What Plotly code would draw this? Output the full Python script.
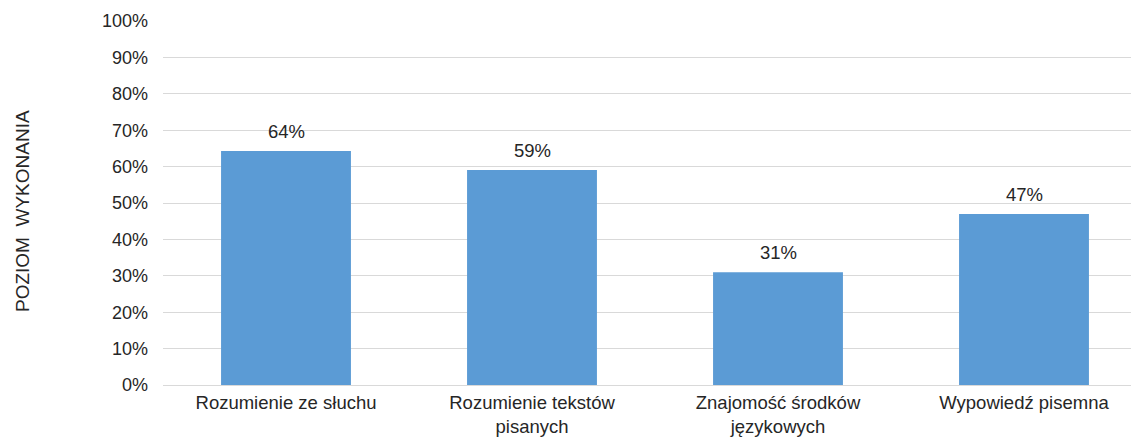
import plotly.graph_objects as go

categories = ["Rozumienie ze słuchu", "Rozumienie tekstów<br>pisanych",
              "Znajomość środków<br>językowych", "Wypowiedź pisemna"]
values = [0.643, 0.591, 0.310, 0.470]
labels = ["64%", "59%", "31%", "47%"]
y_title = "POZIOM  WYKONANIA"

FONT = "Liberation Sans, Arial, sans-serif"
TXT = "#262626"

xs = list(range(len(categories)))
fig = go.Figure(go.Bar(
    x=xs, y=values,
    marker=dict(color="#5b9bd5", line=dict(width=0)),
    width=0.528, hoverinfo="skip",
))

for x, v, t in zip(xs, values, labels):
    fig.add_annotation(x=x, y=v, text=t, showarrow=False, yanchor="bottom",
                       yshift=7, font=dict(family=FONT, size=18.5, color=TXT))

fig.add_annotation(text=y_title, textangle=-90, showarrow=False,
                   xref="paper", yref="paper", x=-0.1433, y=0.478,
                   xanchor="center", yanchor="middle",
                   font=dict(family=FONT, size=19, color=TXT))

fig.update_layout(
    width=1139, height=439,
    margin=dict(l=155, r=0, t=13, b=62),
    plot_bgcolor="white", paper_bgcolor="white",
    showlegend=False,
    font=dict(family=FONT, size=18, color=TXT),
)
fig.update_xaxes(
    tickmode="array", tickvals=xs, ticktext=categories,
    range=[-0.5, 3.5], showgrid=False, zeroline=False,
    showline=False, ticks="", ticklabelstandoff=4,
    tickfont=dict(size=18.5, color=TXT),
)
fig.update_yaxes(
    range=[0, 1], dtick=0.1, tickformat=".0%",
    showgrid=True, gridcolor="#d9d9d9", gridwidth=1.3,
    zeroline=True, zerolinecolor="#d9d9d9", zerolinewidth=1.3,
    showline=False, ticks="", ticklabelstandoff=14,
    tickfont=dict(size=18, color=TXT),
)

fig.write_html("out.html")
